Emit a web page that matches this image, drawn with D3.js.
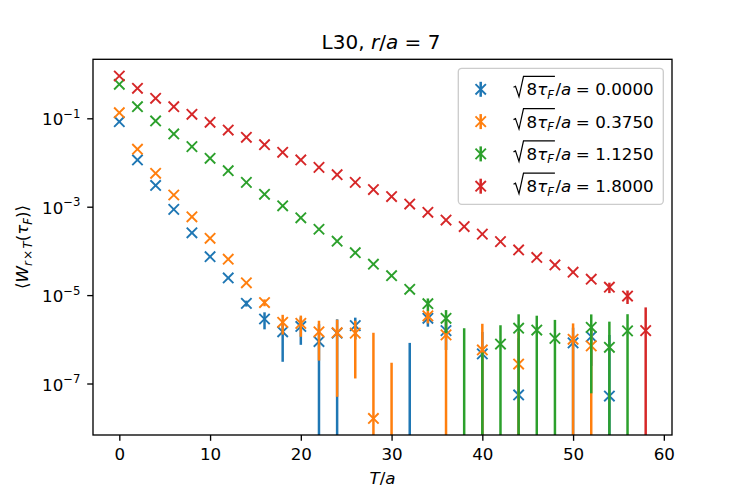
<!DOCTYPE html>
<html><head><meta charset="utf-8">
<script src="https://cdn.jsdelivr.net/npm/d3@7"></script>
<style>body{margin:0;background:#fff} text{font-family:"DejaVu Sans",sans-serif;fill:#000}</style>
</head><body><svg id="c" width="747" height="498"></svg>
<script>
// ---------- data ----------
const tValues = [0,2,4,6,8,10,12,14,16,18,20,22,24,26,28,30,32,34,36,38,40,42,44,46,48,50,52,54,56,58];
const seriesLabels = ["0.0000","0.3750","1.1250","1.8000"];
const blueVals = [0.0838,0.0114,0.00302,8.7e-4,2.57e-4,7.4e-5,2.45e-5,6.5e-6,2.88e-6,1.48e-6,1.95e-6,8.9e-7,1.38e-6,2.04e-6,null,null,-5e-7,2.98e-6,1.57e-6,null,4.68e-7,null,5.5e-8,null,null,8.3e-7,1.15e-6,5.2e-8,null,null];
const blueErrs = [0.002,3e-4,6e-5,2e-5,6e-6,2e-6,1e-6,1.0e-6,1.2e-6,1.17e-6,1.2e-6,1.3e-6,1.45e-6,1.05e-6,null,null,1.33e-6,1.05e-6,1.0e-6,null,1.0e-6,null,1.0e-6,null,null,1.0e-6,0.9e-6,1.2e-6,null,null];
const orangeVals = [0.134,0.0200,0.00569,0.00184,5.9e-4,1.93e-4,6.5e-5,1.9e-5,6.8e-6,2.43e-6,2.29e-6,1.48e-6,1.41e-6,1.38e-6,1.62e-8,-4e-7,null,3.39e-6,1.26e-6,null,5.75e-7,null,2.75e-7,null,null,1.0e-6,7.1e-7,null,null,null];
const orangeErrs = [0.003,5e-4,1e-4,3e-5,1e-5,3e-6,1.5e-6,0.6e-6,1.2e-6,1.15e-6,1.15e-6,1.15e-6,1.36e-6,1.25e-6,1.39e-6,6.95e-7,null,1.1e-6,1.4e-6,null,1.67e-6,null,1.2e-6,null,null,1.29e-6,1.0e-6,null,null,null];
const greenVals = [0.587,0.183,0.0871,0.0442,0.0229,0.01245,0.00653,0.00355,0.00191,0.00105,5.6e-4,3.09e-4,1.66e-4,9.1e-5,5.0e-5,2.75e-5,1.35e-5,6.4e-6,2.98e-6,-1e-6,-5e-7,7.8e-7,1.78e-6,1.62e-6,1.05e-6,null,1.86e-6,6.6e-7,1.55e-6,null];
const greenErrs = [0.01,0.003,0.0015,7e-4,4e-4,2e-4,1e-4,6e-5,3e-5,1.6e-5,9e-6,5e-6,3e-6,2e-6,1.5e-6,1.2e-6,1.2e-6,2.0e-6,1.6e-6,2.78e-6,1.0e-6,1.3e-6,1.9e-6,1.8e-6,1.7e-6,null,1.8e-6,1.85e-6,2.15e-6,null];
const redVals = [0.906,0.478,0.283,0.183,0.123,0.0813,0.0543,0.0372,0.0253,0.0170,0.0114,0.00776,0.00531,0.00355,0.00245,0.00170,0.00115,7.46e-4,5.0e-4,3.55e-4,2.4e-4,1.62e-4,1.05e-4,7.1e-5,4.8e-5,3.3e-5,2.29e-5,1.51e-5,9.5e-6,1.57e-6];
const redErrs = [0.01,0.006,0.004,0.002,0.0015,0.001,7e-4,5e-4,3e-4,2e-4,1.5e-4,1e-4,7e-5,5e-5,3.5e-5,2.5e-5,1.8e-5,1.2e-5,9e-6,7e-6,5e-6,4e-6,3e-6,2.5e-6,2e-6,1.8e-6,2e-6,4e-6,3.2e-6,3.7e-6];
const xTicks = [0,10,20,30,40,50,60];
const yTicks = [1e-1,1e-3,1e-5,1e-7];
const yTickExp = ["\u22121","\u22123","\u22125","\u22127"];

// ---------- layout / style ----------
const colors = ["#1f77b4","#ff7f0e","#2ca02c","#d62728"];
const L = 93, R = 672, Tp = 59.3, B = 435;
const FS = 16.7;
const MK = "M-5.2,-5.2L5.2,5.2M-5.2,5.2L5.2,-5.2";
const svg = d3.select("#c");
const x = d3.scaleLinear().domain([-2.9, 60.9]).range([L, R]);
const y = d3.scaleLog().domain([Math.pow(10,-8.165), Math.pow(10,0.335)]).range([B, Tp]);

svg.append("defs").append("clipPath").attr("id","clip")
  .append("rect").attr("x",L).attr("y",Tp).attr("width",R-L).attr("height",B-Tp);

const series = [
  {vals: blueVals, errs: blueErrs},
  {vals: orangeVals, errs: orangeErrs},
  {vals: greenVals, errs: greenErrs},
  {vals: redVals, errs: redErrs}
];

const plot = svg.append("g").attr("clip-path","url(#clip)");
series.forEach((s, si) => {
  const pts = tValues.map((t,i)=>({t, v:s.vals[i], e:s.errs[i]})).filter(d=>d.v!==null);
  const g = plot.append("g");
  g.selectAll("line.eb").data(pts.filter(d=>d.v+d.e>0)).enter().append("line")
    .attr("x1",d=>x(d.t)).attr("x2",d=>x(d.t))
    .attr("y1",d=>y(d.v+d.e))
    .attr("y2",d=>(d.v-d.e)>0 ? y(d.v-d.e) : B+20)
    .attr("stroke",colors[si]).attr("stroke-width",2.5);
  g.selectAll("path.mk").data(pts.filter(d=>d.v>0)).enter().append("path")
    .attr("transform",d=>`translate(${x(d.t)},${y(d.v)})`)
    .attr("d",MK)
    .attr("stroke",colors[si]).attr("stroke-width",1.9).attr("fill","none");
});

// frame
svg.append("rect").attr("x",L).attr("y",Tp).attr("width",R-L).attr("height",B-Tp)
  .attr("fill","none").attr("stroke","#000").attr("stroke-width",1.33);

// x axis
const xa = svg.append("g").attr("transform",`translate(0,${B})`)
  .call(d3.axisBottom(x).tickValues(xTicks).tickSize(5.8).tickPadding(7.3).tickFormat(d3.format("d")));
xa.select(".domain").remove();
xa.selectAll("line").attr("stroke","#000").attr("stroke-width",1.33);
xa.selectAll("text").attr("font-size",FS).attr("font-family","DejaVu Sans").attr("fill","#000");

// y axis
const ya = svg.append("g").attr("transform",`translate(${L},0)`)
  .call(d3.axisLeft(y).tickValues(yTicks).tickSize(5.8).tickFormat(""));
ya.select(".domain").remove();
ya.selectAll("line").attr("stroke","#000").attr("stroke-width",1.33);
yTicks.forEach((v,i)=>{
  const t = svg.append("text").attr("x",80.5).attr("y",y(v)+7).attr("text-anchor","end").attr("font-size",FS);
  t.append("tspan").text("10");
  t.append("tspan").attr("dy",-7.3).attr("font-size",FS*0.7).text(yTickExp[i]);
});

// title
const title = svg.append("text").attr("x",381).attr("y",48.5).attr("text-anchor","middle").attr("font-size",20);
title.append("tspan").text("L30, ");
title.append("tspan").attr("font-style","italic").text("r");
title.append("tspan").text("/");
title.append("tspan").attr("font-style","italic").text("a");
title.append("tspan").text(" = 7");

// x label
const xl = svg.append("text").attr("x",382.5).attr("y",484).attr("text-anchor","middle").attr("font-size",FS);
xl.append("tspan").attr("font-style","italic").text("T");
xl.append("tspan").text("/");
xl.append("tspan").attr("font-style","italic").text("a");

// y label
const yl = svg.append("text").attr("transform","translate(28,247) rotate(-90)").attr("text-anchor","middle").attr("font-size",FS);
yl.append("tspan").text("\u27E8");
yl.append("tspan").attr("font-style","italic").text("W");
yl.append("tspan").attr("font-style","italic").attr("font-size",FS*0.7).attr("dy",3.5).text("r");
yl.append("tspan").attr("font-size",FS*0.7).attr("dx",1.5).text("\u00D7");
yl.append("tspan").attr("font-style","italic").attr("font-size",FS*0.7).attr("dx",1.5).text("T");
yl.append("tspan").attr("dy",-3.5).text("(");
yl.append("tspan").attr("font-style","italic").text("\u03C4");
yl.append("tspan").attr("font-style","italic").attr("font-size",FS*0.7).attr("dy",3.5).text("F");
yl.append("tspan").attr("dy",-3.5).text(")\u27E9");

// legend
svg.append("rect").attr("x",458.3).attr("y",68.3).attr("width",205).attr("height",136).attr("rx",3.5)
  .attr("fill","#fff").attr("fill-opacity",0.8).attr("stroke","#cccccc").attr("stroke-width",1.33);
const rowY = [89.3,121.6,153.9,186.2];
function piece(g, txt, px, py, opts){
  const t = g.append("text").attr("x",px).attr("y",py).attr("font-size",opts.size||FS).text(txt);
  if(opts.italic) t.attr("font-style","italic");
  return px + t.node().getComputedTextLength();
}
seriesLabels.forEach((lab,i)=>{
  const cy = rowY[i], b = cy+6, g = svg.append("g");
  g.append("line").attr("x1",480.7).attr("x2",480.7).attr("y1",cy-7.5).attr("y2",cy+7.5)
    .attr("stroke",colors[i]).attr("stroke-width",2.5);
  g.append("path").attr("transform",`translate(480.7,${cy})`).attr("d",MK)
    .attr("stroke",colors[i]).attr("stroke-width",1.9).attr("fill","none");
  const x0 = 513.5;
  let cx = x0 + 13;
  cx = piece(g,"8",cx,b,{});
  cx = piece(g,"\u03C4",cx,b,{italic:true});
  cx = piece(g,"F",cx,b+3.5,{italic:true,size:FS*0.7});
  const xEnd = cx + 1;
  g.append("path").attr("d",`M${x0},${b-8}L${x0+2},${b-9}L${x0+5.5},${b+1.5}L${x0+10},${b-19}L${xEnd},${b-19}`)
    .attr("fill","none").attr("stroke","#000").attr("stroke-width",1.2);
  cx = piece(g,"/",xEnd+0.5,b,{});
  cx = piece(g,"a",cx,b,{italic:true});
  cx = piece(g,"=",cx+4.5,b,{});
  piece(g,lab,cx+5.5,b,{});
});
</script></body></html>
